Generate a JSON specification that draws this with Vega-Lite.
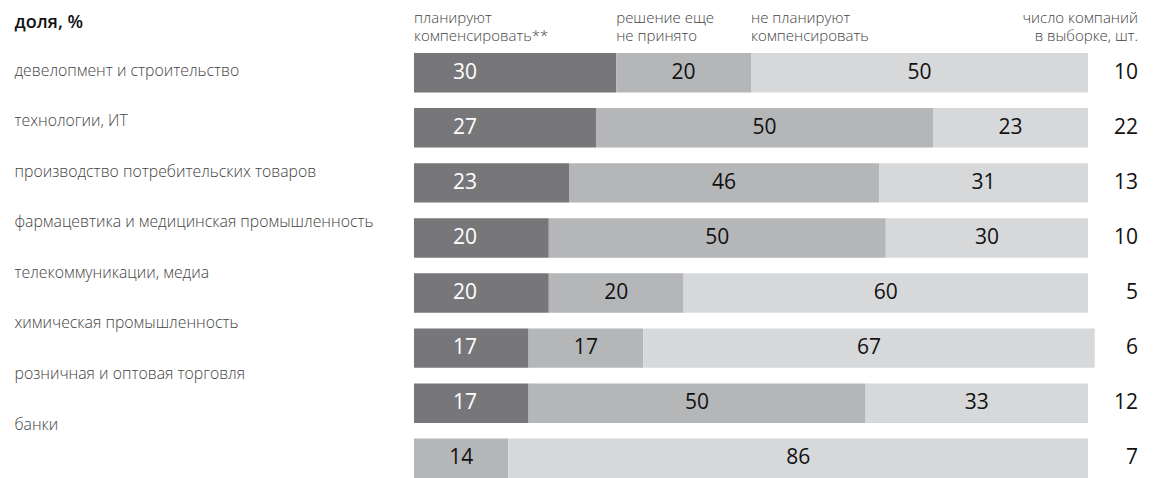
{
  "$schema": "https://vega.github.io/schema/vega-lite/v6.json",
  "width": 674,
  "height": 425,
  "autosize": {"type": "none"},
  "padding": {"left": 414, "top": 53, "right": 67, "bottom": 0},
  "background": "white",
  "config": {"view": {"stroke": null}, "font": "Open Sans"},
  "datasets": {
    "shares": [
      {"sector": "девелопмент и строительство", "group": "планируют\nкомпенсировать**", "order": 1, "value": 30},
      {"sector": "девелопмент и строительство", "group": "решение еще\nне принято", "order": 2, "value": 20},
      {"sector": "девелопмент и строительство", "group": "не планируют\nкомпенсировать", "order": 3, "value": 50},
      {"sector": "технологии, ИТ", "group": "планируют\nкомпенсировать**", "order": 1, "value": 27},
      {"sector": "технологии, ИТ", "group": "решение еще\nне принято", "order": 2, "value": 50},
      {"sector": "технологии, ИТ", "group": "не планируют\nкомпенсировать", "order": 3, "value": 23},
      {"sector": "производство потребительских товаров", "group": "планируют\nкомпенсировать**", "order": 1, "value": 23},
      {"sector": "производство потребительских товаров", "group": "решение еще\nне принято", "order": 2, "value": 46},
      {"sector": "производство потребительских товаров", "group": "не планируют\nкомпенсировать", "order": 3, "value": 31},
      {"sector": "фармацевтика и медицинская промышленность", "group": "планируют\nкомпенсировать**", "order": 1, "value": 20},
      {"sector": "фармацевтика и медицинская промышленность", "group": "решение еще\nне принято", "order": 2, "value": 50},
      {"sector": "фармацевтика и медицинская промышленность", "group": "не планируют\nкомпенсировать", "order": 3, "value": 30},
      {"sector": "телекоммуникации, медиа", "group": "планируют\nкомпенсировать**", "order": 1, "value": 20},
      {"sector": "телекоммуникации, медиа", "group": "решение еще\nне принято", "order": 2, "value": 20},
      {"sector": "телекоммуникации, медиа", "group": "не планируют\nкомпенсировать", "order": 3, "value": 60},
      {"sector": "химическая промышленность", "group": "планируют\nкомпенсировать**", "order": 1, "value": 17},
      {"sector": "химическая промышленность", "group": "решение еще\nне принято", "order": 2, "value": 17},
      {"sector": "химическая промышленность", "group": "не планируют\nкомпенсировать", "order": 3, "value": 67},
      {"sector": "розничная и оптовая торговля", "group": "планируют\nкомпенсировать**", "order": 1, "value": 17},
      {"sector": "розничная и оптовая торговля", "group": "решение еще\nне принято", "order": 2, "value": 50},
      {"sector": "розничная и оптовая торговля", "group": "не планируют\nкомпенсировать", "order": 3, "value": 33},
      {"sector": "банки", "group": "решение еще\nне принято", "order": 2, "value": 14},
      {"sector": "банки", "group": "не планируют\nкомпенсировать", "order": 3, "value": 86}
    ],
    "counts": [
      {"sector": "девелопмент и строительство", "n": 10},
      {"sector": "технологии, ИТ", "n": 22},
      {"sector": "производство потребительских товаров", "n": 13},
      {"sector": "фармацевтика и медицинская промышленность", "n": 10},
      {"sector": "телекоммуникации, медиа", "n": 5},
      {"sector": "химическая промышленность", "n": 6},
      {"sector": "розничная и оптовая торговля", "n": 12},
      {"sector": "банки", "n": 7}
    ]
  },
  "resolve": {"scale": {"y": "independent"}},
  "layer": [
    {
      "data": {"name": "counts"},
      "mark": {"type": "text", "text": ""},
      "encoding": {
        "y": {
          "field": "sector", "type": "nominal", "sort": null,
          "scale": {"type": "point", "padding": 0.7, "align": 0.24},
          "axis": {
            "title": "доля, %", "titleAngle": 0, "titleAlign": "left", "titleBaseline": "middle",
            "titleX": -400, "titleY": -31, "titleFontSize": 18, "titleFontWeight": 600,
            "titleColor": "#111111", "titleFont": "Open Sans",
            "labelAlign": "left", "labelBaseline": "middle", "labelPadding": 400, "labelLimit": 400,
            "labelFontSize": 15.8, "labelFont": "Open Sans", "labelFontWeight": 300, "labelColor": "#444444",
            "ticks": false, "tickSize": 0, "domain": false, "grid": false
          }
        }
      }
    },
    {
      "layer": [
        {
          "data": {"name": "shares"},
          "transform": [
            {"stack": "value", "groupby": ["sector"], "sort": [{"field": "order"}], "as": ["x0", "x1"]}
          ],
          "mark": {"type": "bar"},
          "encoding": {
            "y": {"field": "sector", "type": "nominal", "sort": null,
                  "scale": {"type": "band", "paddingInner": 0.285, "paddingOuter": 0}, "axis": null},
            "x": {"field": "x0", "type": "quantitative", "scale": {"domain": [0, 100]}, "axis": null},
            "x2": {"field": "x1"},
            "color": {"field": "group", "type": "nominal", "legend": null,
                      "scale": {"domain": ["планируют\nкомпенсировать**", "решение еще\nне принято", "не планируют\nкомпенсировать"],
                                "range": ["#77777a", "#b5b6b8", "#d7d8da"]}}
          }
        },
        {
          "data": {"name": "shares"},
          "transform": [
            {"stack": "value", "groupby": ["sector"], "sort": [{"field": "order"}], "as": ["x0", "x1"]},
            {"filter": "datum.order === 1"}
          ],
          "mark": {"type": "text", "align": "left", "baseline": "middle", "dx": 39, "fontSize": 21, "color": "white", "font": "Open Sans"},
          "encoding": {
            "y": {"field": "sector", "type": "nominal", "sort": null},
            "x": {"field": "x0", "type": "quantitative"},
            "text": {"field": "value", "type": "quantitative"}
          }
        },
        {
          "data": {"name": "shares"},
          "transform": [
            {"stack": "value", "groupby": ["sector"], "sort": [{"field": "order"}], "as": ["x0", "x1"]},
            {"filter": "datum.order !== 1"},
            {"calculate": "(datum.x0 + datum.x1) / 2", "as": "mid"}
          ],
          "mark": {"type": "text", "align": "center", "baseline": "middle", "fontSize": 21, "color": "#111111", "font": "Open Sans"},
          "encoding": {
            "y": {"field": "sector", "type": "nominal", "sort": null},
            "x": {"field": "mid", "type": "quantitative"},
            "text": {"field": "value", "type": "quantitative"}
          }
        },
        {
          "data": {"name": "shares"},
          "transform": [
            {"stack": "value", "groupby": ["sector"], "sort": [{"field": "order"}], "as": ["x0", "x1"]},
            {"filter": "datum.sector === 'девелопмент и строительство'"}
          ],
          "mark": {"type": "text", "align": "left", "baseline": "middle", "dy": -55, "lineBreak": "\n", "lineHeight": 18, "fontSize": 15, "fontWeight": 300, "color": "#444444", "font": "Open Sans"},
          "encoding": {
            "y": {"field": "sector", "type": "nominal", "sort": null},
            "x": {"field": "x0", "type": "quantitative"},
            "text": {"field": "group", "type": "nominal"}
          }
        },
        {
          "data": {"name": "counts"},
          "mark": {"type": "text", "align": "right", "baseline": "middle", "dx": 50, "fontSize": 21, "color": "#111111", "font": "Open Sans"},
          "encoding": {
            "y": {"field": "sector", "type": "nominal", "sort": null},
            "x": {"datum": 100, "type": "quantitative"},
            "text": {"field": "n", "type": "quantitative"}
          }
        },
        {
          "data": {"name": "counts"},
          "transform": [{"filter": "datum.sector === 'девелопмент и строительство'"}],
          "mark": {"type": "text", "align": "right", "baseline": "middle", "dx": 50, "dy": -55, "lineHeight": 18,
                   "text": ["число компаний", "в выборке, шт."], "fontSize": 15, "fontWeight": 300, "color": "#444444", "font": "Open Sans"},
          "encoding": {
            "y": {"field": "sector", "type": "nominal", "sort": null},
            "x": {"datum": 100, "type": "quantitative"}
          }
        }
      ]
    }
  ]
}
